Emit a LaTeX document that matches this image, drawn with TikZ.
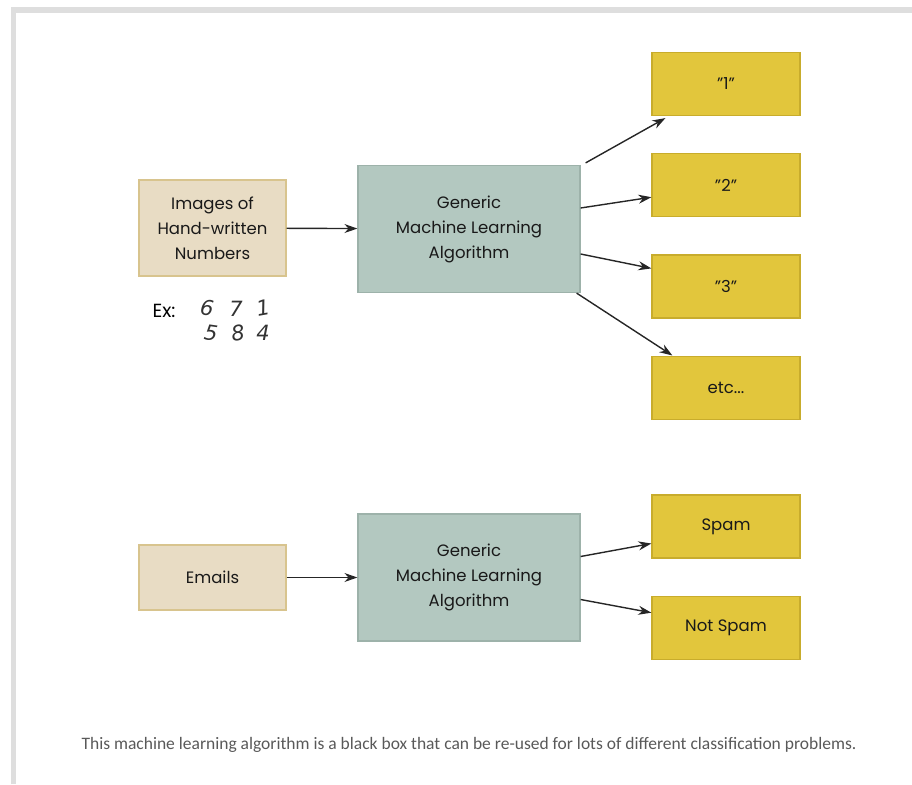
\documentclass[tikz,border=0pt]{standalone}
\usepackage{fontspec}
\setmainfont{Poppins}
\newfontfamily\captionfont{Carlito}
\newfontfamily\handfont{DejaVu Sans}
\usetikzlibrary{arrows.meta,positioning}

\definecolor{inputfill}{HTML}{E8DCC4}
\definecolor{inputline}{HTML}{D8C48E}
\definecolor{algofill}{HTML}{B3C8C0}
\definecolor{algoline}{HTML}{9DB2AA}
\definecolor{outfill}{HTML}{E2C63C}
\definecolor{outline}{HTML}{C8AC2C}
\definecolor{framegray}{HTML}{DEDEDE}

\newcommand{\qt}[1]{\char34\relax#1\char34\relax}

\tikzset{
  box/.style={draw,line width=1.2pt,align=center,inner sep=0pt,text=black!90,
    font=\fontsize{16.5}{25}\selectfont},
  inbox/.style={box,fill=inputfill,draw=inputline,minimum width=147pt},
  algobox/.style={box,fill=algofill,draw=algoline,minimum width=222pt,minimum height=127pt},
  outbox/.style={box,fill=outfill,draw=outline,minimum width=148pt,minimum height=63pt},
  link/.style={draw=black!85,line width=1.4pt,-{Stealth[length=13pt,width=9pt]}},
  digit/.style={font=\handfont\itshape\fontsize{21}{21}\selectfont,inner sep=0pt,text=black!80}
}

\begin{document}
\begin{tikzpicture}[x=1pt,y=-1pt,node distance=37pt]
\useasboundingbox (0,0) rectangle (912,784);

% page frame
\draw[framegray,line width=5.5pt] (13.5,784) |- (912,10);

% handwritten numbers
\node[inbox,minimum height=96pt]   (images) at (212.5,228)  {Images of\\Hand-written\\Numbers};
\node[algobox]                     (ml1)    at (469,229)    {Generic\\Machine Learning\\Algorithm};
\node[outbox]                      (one)    at (726,84)     {\qt{1}};
\node[outbox]     (two)   [below=of one]    {\qt{2}};
\node[outbox]     (three) [below=of two]    {\qt{3}};
\node[outbox]     (etc)   [below=of three]  {etc...};

\node[font=\fontsize{19}{19}\selectfont,inner sep=0pt] (ex) at (164,311) {Ex:};
\node[digit,rotate=-8]  (d6) at (207,308) {6};
\node[digit]            (d7) at (236,309) {7};
\node[digit,rotate=10]  (d1) at (263,308) {1};
\node[digit,rotate=-8]  (d5) at (211,333) {5};
\node[digit,rotate=8]   (d8) at (238,333) {8};
\node[digit]            (d4) at (263,333) {4};

% emails
\node[inbox,minimum height=65pt]   (emails) at (212.5,577.5) {Emails};
\node[algobox]                     (ml2)    at (469,577.5)   {Generic\\Machine Learning\\Algorithm};
\node[outbox]                      (spam)   at (726,526.5)   {Spam};
\node[outbox]     (notspam) [below=of spam] {Not Spam};

\path[link] (images) -- (ml1);
\path[link] ([xshift=5pt,yshift=2pt]ml1.north east) -- ([xshift=14pt,yshift=-2pt]one.south west);
\path[link] ([yshift=21pt]ml1.east) -- ([yshift=-12pt]two.west);
\path[link] ([yshift=-25pt]ml1.east) -- ([yshift=18pt]three.west);
\path[link] ([xshift=-4pt]ml1.south east) -- ([xshift=21pt]etc.north west);

\path[link] (emails) -- (ml2);
\path[link] ([yshift=21pt]ml2.east) -- ([yshift=-17pt]spam.west);
\path[link] ([yshift=-22pt]ml2.east) -- ([yshift=15pt]notspam.west);

\node[font=\captionfont\fontsize{17.5}{20}\selectfont,text=black!65] (caption) at (469,745)
  {This machine learning algorithm is a black box that can be re-used for lots of different classification problems.};
\end{tikzpicture}
\end{document}
